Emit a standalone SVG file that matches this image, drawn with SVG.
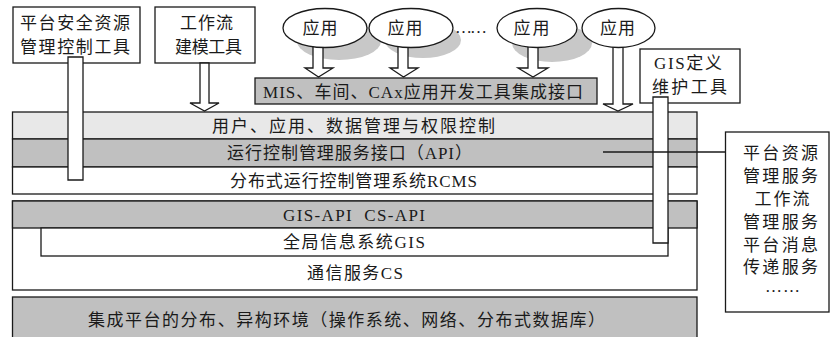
<svg xmlns="http://www.w3.org/2000/svg" width="830" height="337" viewBox="0 0 830 337">
<style>
.b{stroke:#1a1a1a;stroke-width:1.3;fill:#fff}
.g{stroke:#1a1a1a;stroke-width:1.3;fill:#c0c0c0}
.l{stroke:#1a1a1a;stroke-width:1.3;fill:#e8e8e8}
.sh{fill:#c8c8c8;stroke:none}
.ln{stroke:#1a1a1a;stroke-width:1.3;fill:none}
text{font-family:"Liberation Serif","Noto Sans CJK SC",serif;font-size:17px;fill:#1a1a1a;text-anchor:middle}
</style>
<rect width="830" height="337" fill="#fff"/>
<g id="block-rcms">
<rect class="l" x="12.5" y="112" width="684.5" height="27"/>
<rect class="g" x="12.5" y="139" width="684.5" height="28"/>
<rect class="b" x="12.5" y="167" width="684.5" height="27"/>
<text x="353.5" y="132" textLength="283">用户、应用、数据管理与权限控制</text>
<text x="349.5" y="159" textLength="245">运行控制管理服务接口（API）</text>
<text x="353.5" y="187" textLength="247">分布式运行控制管理系统RCMS</text>
</g>
<g id="block-gis">
<rect class="b" x="12.5" y="201" width="684.5" height="89"/>
<rect class="g" x="12.5" y="201" width="684.5" height="27"/>
<rect class="b" x="41" y="228" width="627" height="28"/>
<text x="354" y="221" textLength="142">GIS-API&#160;&#160;CS-API</text>
<text x="354" y="248" textLength="142">全局信息系统GIS</text>
<text x="355" y="279" textLength="96">通信服务CS</text>
</g>
<g id="block-env">
<rect class="g" x="12.5" y="297" width="684.5" height="50"/>
<text x="346.5" y="326" textLength="517">集成平台的分布、异构环境（操作系统、网络、分布式数据库）</text>
</g>
<g id="mis">
<rect class="g" x="255" y="78" width="342" height="26"/>
<text x="423" y="98" textLength="320">MIS、车间、CAx应用开发工具集成接口</text>
</g>
<g id="security-tool">
<rect class="b" x="13" y="7" width="127" height="56"/>
<text x="75" y="29" textLength="110">平台安全资源</text>
<text x="75" y="53" textLength="110">管理控制工具</text>
</g>
<g id="workflow-tool">
<rect class="b" x="155" y="7" width="100" height="56"/>
<text x="206.5" y="29" textLength="53">工作流</text>
<text x="208.5" y="53" textLength="67">建模工具</text>
</g>
<g id="gis-tool">
<rect class="b" x="640" y="49" width="100" height="54"/>
<text x="688" y="69" textLength="68">GIS定义</text>
<text x="689.5" y="93" textLength="75">维护工具</text>
</g>
<g id="services">
<rect class="b" x="725.5" y="132" width="103.5" height="180"/>
<text x="780.5" y="159" textLength="75">平台资源</text>
<text x="780.5" y="182" textLength="75">管理服务</text>
<text x="782" y="205" textLength="55">工作流</text>
<text x="780.5" y="228" textLength="75">管理服务</text>
<text x="780.5" y="251" textLength="75">平台消息</text>
<text x="780.5" y="273" textLength="75">传递服务</text>
<text x="782.5" y="292" textLength="35">……</text>
</g>
<g id="shadows">
<ellipse class="sh" cx="339" cy="41" rx="42" ry="19"/>
<ellipse class="sh" cx="423" cy="40" rx="38" ry="18"/>
<ellipse class="sh" cx="552" cy="43" rx="40" ry="19"/>
</g>
<g id="connectors">
<polygon class="b" points="68,57 83,57 83,180 68,180"/>
<polygon class="b" points="653,97 668,97 668,243 653,243"/>
<polygon class="b" points="200,63 209,63 209,103 219,103 204.5,111 190,103 200,103"/>
<polygon class="b" points="313,40 323,40 323,68 333,68 318.5,77 305,68 313,68"/>
<polygon class="b" points="398,40 408,40 408,68 418,68 403.5,77 390,68 398,68"/>
<polygon class="b" points="528,40 538,40 538,68 548,68 533,77 518,68 528,68"/>
<polygon class="b" points="613,40 623,40 623,104 633,104 618,111 603,104 613,104"/>
<line class="ln" x1="603" y1="152" x2="725.5" y2="152"/>
</g>
<g id="app1">
<ellipse class="b" cx="325" cy="28" rx="42" ry="19.5"/>
<text x="320" y="34" textLength="35">应用</text>
</g>
<g id="app2">
<ellipse class="b" cx="411" cy="28" rx="42" ry="19.5"/>
<text x="405" y="34" textLength="35">应用</text>
</g>
<g id="dots">
<text x="471" y="33" textLength="32">……</text>
</g>
<g id="app3">
<ellipse class="b" cx="537" cy="28" rx="40" ry="19.5"/>
<text x="531.5" y="34" textLength="36">应用</text>
</g>
<g id="app4">
<ellipse class="b" cx="618.5" cy="28" rx="36.5" ry="19.5"/>
<text x="617.5" y="34" textLength="35">应用</text>
</g>
</svg>
